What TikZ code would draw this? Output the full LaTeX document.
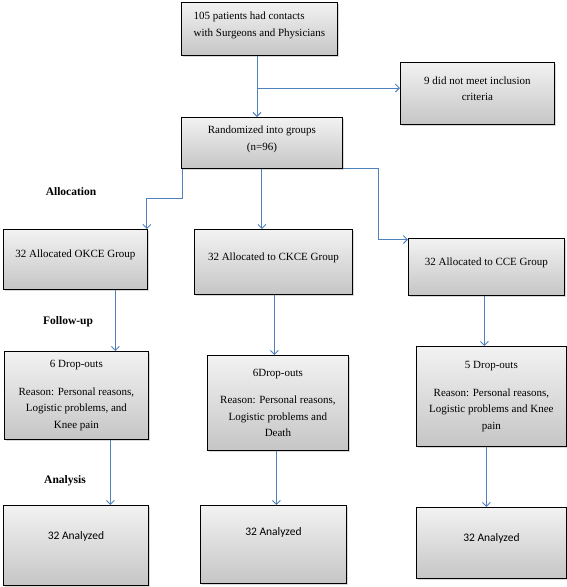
\documentclass[tikz,border=0pt]{standalone}
\usepackage{fontspec}
\setmainfont{Liberation Serif}
\newfontfamily\calibri{Carlito}
\usetikzlibrary{arrows.meta,shadows}
\definecolor{arrowblue}{RGB}{79,129,189}

\begin{document}
\begin{tikzpicture}[x=1pt,y=-1pt,
    box/.style={draw=black,line width=0.8pt,top color=gray!10,bottom color=gray!45,
      drop shadow={shadow xshift=1.5pt,shadow yshift=-1.5pt,opacity=0.3},
      anchor=north west,inner sep=0pt,align=center,
      font=\fontsize{11}{16.5}\selectfont},
    result/.style={box,font=\calibri\fontsize{11.5}{14}\selectfont},
    flow/.style={draw=arrowblue,line width=0.9pt,-{Straight Barb[length=4pt,width=8pt]}},
    stage/.style={font=\bfseries\fontsize{11.5}{13}\selectfont}]
  \useasboundingbox (0,0) rectangle (567,587);

  % enrolment
  \node[box,minimum width=156,minimum height=53,align=left] (recruit) at (181,2)
    {105 patients had contacts\\with Surgeons and Physicians\\[-7pt]};
  \node[box,minimum width=154,minimum height=62] (excl) at (400,62)
    {9 did not meet inclusion\\criteria\\[-7pt]};
  \node[box,minimum width=161,minimum height=51] (random) at (181,117)
    {Randomized into groups\\(n=96)\\[-7pt]};

  % allocation
  \node[stage] (alloc) at (71,192) {Allocation};
  \node[box,minimum width=144,minimum height=60] (alloc1) at (3,229) {32 Allocated OKCE Group\\[-5pt]};
  \node[box,minimum width=158,minimum height=65] (alloc2) at (194,229) {32 Allocated to CKCE Group\\[-6pt]};
  \node[box,minimum width=156,minimum height=57] (alloc3) at (408,238) {32 Allocated to CCE Group\\[-6pt]};

  % follow-up
  \node[stage] (follow) at (68,322) {Follow-up};
  \node[box,minimum width=144,minimum height=88] (drop1) at (4,351)
    {6 Drop-outs\\[11pt]Reason: Personal reasons,\\Logistic problems, and\\Knee pain};
  \node[box,minimum width=141,minimum height=95] (drop2) at (207,355)
    {6Drop-outs\\[11pt]Reason: Personal reasons,\\Logistic problems and\\Death};
  \node[box,minimum width=150,minimum height=100] (drop3) at (416,346)
    {5 Drop-outs\\[11pt]Reason: Personal reasons,\\Logistic problems and Knee\\pain};

  % analysis
  \node[stage] (analysis) at (65,481) {Analysis};
  \node[result,minimum width=145,minimum height=80] (ana1) at (3,505) {32 Analyzed\\[6pt]};
  \node[result,minimum width=146,minimum height=78] (ana2) at (200,505) {32 Analyzed\\[12pt]};
  \node[result,minimum width=150,minimum height=71] (ana3) at (416,507) {32 Analyzed\\[-3pt]};

  \coordinate (split) at (257,88);
  \draw[arrowblue,line width=0.9pt] (recruit.south -| split) -- (split);
  \draw[flow] (split) -- (split |- random.north);
  \draw[flow] (split) -- (split -| excl.west);

  \draw[flow] ([xshift=1.5pt]random.south west) -- ++(0,30) -| ([xshift=-1pt]alloc1.north east);
  \draw[flow] (random.south) -- (random.south |- alloc2.north);
  \draw[flow] (random.south east) -- ++(36,0) |- ([yshift=-1.5pt]alloc3.north west);

  \draw[flow] ([xshift=40pt]alloc1.south) -- ([xshift=40pt]alloc1.south |- drop1.north);
  \draw[flow] ([xshift=1pt]alloc2.south) -- ([xshift=1pt]alloc2.south |- drop2.north);
  \draw[flow] ([xshift=-2pt]alloc3.south) -- ([xshift=-2pt]alloc3.south |- drop3.north);

  \draw[flow] ([xshift=34pt]drop1.south) -- ([xshift=34pt]drop1.south |- ana1.north);
  \draw[flow] ([xshift=-1.5pt]drop2.south) -- ([xshift=-1.5pt]drop2.south |- ana2.north);
  \draw[flow] ([xshift=-5pt]drop3.south) -- ([xshift=-5pt]drop3.south |- ana3.north);
\end{tikzpicture}
\end{document}
